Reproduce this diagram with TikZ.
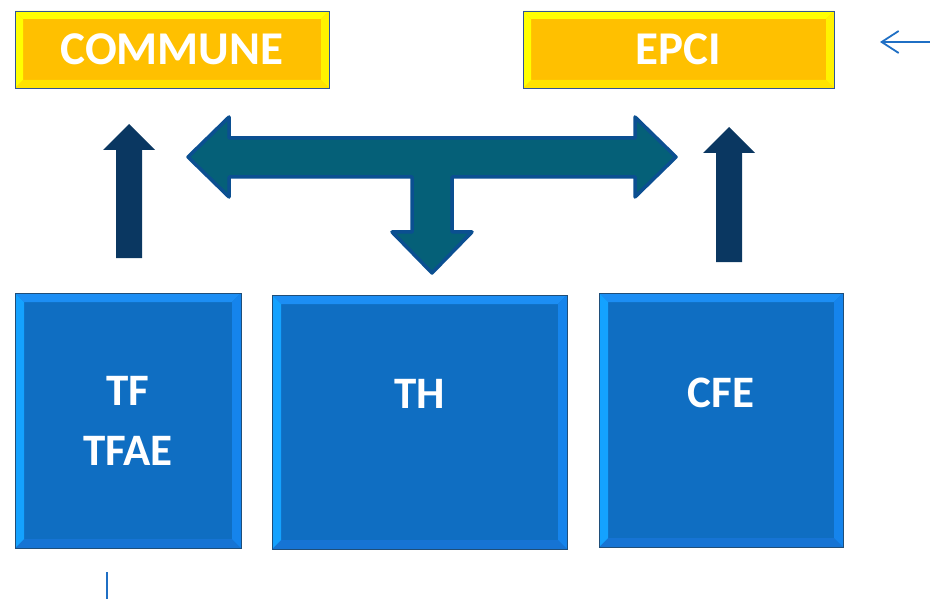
\documentclass[tikz,border=0pt]{standalone}
\usepackage{fontspec}
\setmainfont{Carlito}
\usetikzlibrary{arrows.meta}

% bevelled box palettes
\definecolor{ylin}{HTML}{FFC000}
\definecolor{yltop}{HTML}{FFFF00}
\definecolor{ylleft}{HTML}{FFFF00}
\definecolor{ylright}{HTML}{FFF200}
\definecolor{ylbot}{HTML}{FFE300}
\definecolor{ylline}{HTML}{2E5597}
\definecolor{blin}{HTML}{0F6EC2}
\definecolor{bltop}{HTML}{1C8EF4}
\definecolor{blleft}{HTML}{14A2FF}
\definecolor{blright}{HTML}{1584EC}
\definecolor{blbot}{HTML}{1674D4}
\definecolor{blline}{HTML}{1F4E79}
% arrows
\definecolor{tfill}{HTML}{056078}
\definecolor{tline}{HTML}{0B4F91}
\definecolor{upfill}{HTML}{0A3761}
\definecolor{thin}{HTML}{1F6FC4}

\tikzset{
  boxtext/.style={text=white, font=\fontsize{45}{60}\selectfont\bfseries, inner sep=0pt},
  toptext/.style={boxtext, font=\fontsize{47}{60}\selectfont\bfseries},
  blockT/.style={fill=tfill, draw=tline, line width=3.5pt, line join=round},
  blockup/.style={fill=upfill},
  thinline/.style={draw=thin, line width=1.8pt},
}

% #1 name, #2 x1, #3 y1, #4 x2, #5 y2, #6 palette, #7 bevel width
\newcommand{\bevbox}[7]{%
  \node[fill=#6in, draw=none, minimum width={#4-#2}, minimum height={#5-#3},
        inner sep=0pt, outer sep=0pt, anchor=north west] (#1) at (#2,#3) {};
  \fill[#6top] (#1.north west) -- (#1.north east) -- ([shift={(-#7,#7)}]#1.north east)
     -- ([shift={(#7,#7)}]#1.north west) -- cycle;
  \fill[#6bot] (#1.south west) -- (#1.south east) -- ([shift={(-#7,-#7)}]#1.south east)
     -- ([shift={(#7,-#7)}]#1.south west) -- cycle;
  \fill[#6left] (#1.north west) -- ([shift={(#7,#7)}]#1.north west)
     -- ([shift={(#7,-#7)}]#1.south west) -- (#1.south west) -- cycle;
  \fill[#6right] (#1.north east) -- ([shift={(-#7,#7)}]#1.north east)
     -- ([shift={(-#7,-#7)}]#1.south east) -- (#1.south east) -- cycle;
  \draw[#6line, line width=0.8pt] (#1.north west) rectangle (#1.south east);
}

\begin{document}
\begin{tikzpicture}[x=1pt, y=-1pt]
\useasboundingbox (0,0) rectangle (930,599);

% top boxes
\bevbox{commune}{15}{11}{329}{88}{yl}{8}
\bevbox{epci}{523}{11}{834}{88}{yl}{8}
\node[toptext, anchor=base] (communeT) at (commune.center |- 0,65) {COMMUNE};
\node[toptext, anchor=base] (epciT) at (epci.center |- 0,65) {EPCI};

% bottom boxes
\bevbox{tf}{15}{293}{241}{548}{bl}{9}
\bevbox{th}{272}{295}{567}{549}{bl}{9}
\bevbox{cfe}{599}{293}{843}{547}{bl}{9}
\node[boxtext, align=center] (tfT) at (tf.center |- 0,421) {TF\\TFAE};
\node[boxtext, anchor=base] (thT) at (th.center |- 0,408) {TH};
\node[boxtext, anchor=base] (cfeT) at (cfe.center |- 0,407) {CFE};

% up block arrows
\path[blockup] (116,258) -- (116,150) -- (103,150) -- (129,124) -- (155,150)
  -- (142,150) -- (142,258) -- cycle;
\path[blockup] (716,262) -- (716,153) -- (703,153) -- (729,127) -- (755,153)
  -- (742,153) -- (742,262) -- cycle;

% T-shaped block arrow
\path[blockT] (188,157) -- (229,117) -- (229,138) -- (635,138) -- (635,117)
  -- (676,157) -- (635,197) -- (635,177) -- (452,177) -- (452,232) -- (472,232)
  -- (432,273) -- (392,232) -- (412,232) -- (412,177) -- (229,177) -- (229,197) -- cycle;

% thin marks
\coordinate (rA) at (931,42);
\coordinate (rB) at (880,42);
\draw[thinline, -{Straight Barb[length=17pt, width=22pt]}] (rA) -- (rB);
\coordinate (bA) at (107,572);
\coordinate (bB) at (107,600);
\draw[thinline] (bA) -- (bB);
\end{tikzpicture}
\end{document}
